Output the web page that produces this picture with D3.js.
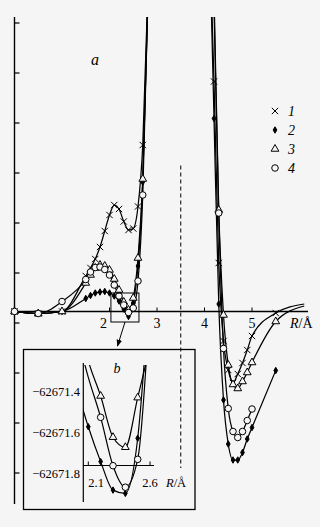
<!DOCTYPE html>
<html>
<head>
<meta charset="utf-8">
<script src="https://cdn.jsdelivr.net/npm/d3@7"></script>
<style>
  body { margin: 0; background: #f5f5f5; }
  svg { display: block; font-family: "Liberation Serif", "DejaVu Serif", serif; }
</style>
</head>
<body>
<div id="chart"></div>
<script>
// ---- data (R in Å, energy in tick units for the main panel) ----
var rLeft = [0, 0.5, 1.0, 1.5, 1.6, 1.7, 1.8, 1.9, 2.0, 2.1, 2.2, 2.3, 2.4, 2.5, 2.6, 2.7, 2.8];
var left1 = [0.23, 0.19, 0.23, 0.94, 1.10, 1.28, 1.52, 1.84, 2.16, 2.36, 2.28, 2.03, 1.86, 1.89, 2.33, 3.56, 6.4];
var left2 = [0.23, 0.19, 0.23, 0.49, 0.55, 0.60, 0.62, 0.63, 0.60, 0.54, 0.44, 0.28, 0.13, 0.40, 1.14, 2.82, 6.26];
var left3 = [0.23, 0.19, 0.23, 0.80, 0.96, 1.10, 1.16, 1.14, 1.06, 0.88, 0.66, 0.42, 0.26, 0.50, 1.30, 2.88, 6.16];
var left4 = [0.23, 0.19, 0.43, 0.87, 1.02, 1.11, 1.12, 1.07, 0.96, 0.76, 0.54, 0.36, 0.21, 0.30, 0.84, 2.56, 6.16];

var rRight = [4.1, 4.2, 4.3, 4.4, 4.5, 4.6, 4.7, 4.8, 4.9, 5.0, 5.5, 6.1];
var right1 = [8, 4.83, 1.20, -0.36, -0.94, -1.20, -1.02, -0.80, -0.54, -0.26, 0.20, 0.38];
var right2 = [8, 4.09, 0.38, -1.54, -2.42, -2.74, -2.74, -2.59, -2.32, -2.09, -0.95, null];
var right3 = [10, 6.6, 2.26, 0.16, -0.84, -1.23, -1.31, -1.17, -0.99, -0.79, 0.03, 0.34];
var right4 = [10, 6.3, 2.2, -0.51, -1.71, -2.17, -2.29, -2.17, -1.95, -1.72, null, null];

var xTicks = [2, 3, 4, 5];
var yTicks = [-3, -2, -1, 0, 1, 2, 3, 4, 5, 6];
var baseLevel = 0.23;      // where the R axis crosses
var dashR = 3.5;
var zoomBox = { r0: 2.03, r1: 2.62, e0: 0.02, e1: 0.6 };

// inset b (total energy)
var insetR = [2.0, 2.1, 2.2, 2.3, 2.4, 2.5, 2.6];
var inset2 = [-62671.37, -62671.571, -62671.741, -62671.880, -62671.896, -62671.627, -62670.85];
var inset3 = [-62671.0, -62671.25, -62671.421, -62671.622, -62671.671, -62671.429, -62671.18];
var inset4 = [-62671.1, -62671.33, -62671.525, -62671.761, -62671.866, -62671.730, -62670.95];
var insetMarkR2 = [2.1, 2.2, 2.3, 2.4, 2.5];
var insetMarkR34 = [2.2, 2.3, 2.4, 2.5];
var insetYTicks = [-62671.4, -62671.6, -62671.8];
var insetXTicks = [2.1, 2.6];
var insetBase = -62671.76;

var legendLabels = ["1", "2", "3", "4"];

// ---- setup ----
var bg = "#f5f5f5";
var svg = d3.select("#chart").append("svg")
    .attr("width", 320)
    .attr("height", 527)
    .style("background", bg);

var x = d3.scaleLinear().domain([0, 5]).range([14.5, 252]);
var y = d3.scaleLinear().domain([0, 6]).range([323, 23]);
var yTop = 6.12, yBottom = -3.62, xEnd = 6.18;

// marker shapes
var timesSym = {
    draw: function (ctx, size) {
        var r = Math.sqrt(size) / 2;
        ctx.moveTo(-r, -r); ctx.lineTo(r, r);
        ctx.moveTo(-r, r); ctx.lineTo(r, -r);
    }
};
var markers = [
    { type: timesSym, size: 40, fill: "none" },
    { type: d3.symbolDiamond, size: 12, fill: "#000" },
    { type: d3.symbolTriangle, size: 26, fill: bg },
    { type: d3.symbolCircle, size: 34, fill: bg }
];
function drawMarker(g, i, px, py) {
    var m = markers[i];
    g.append("path")
        .attr("d", d3.symbol().type(m.type).size(m.size)())
        .attr("transform", "translate(" + px + "," + py + ")")
        .attr("fill", m.fill)
        .attr("stroke", "#000")
        .attr("stroke-width", 1);
}

svg.append("clipPath").attr("id", "mainClip")
    .append("rect").attr("x", 15).attr("y", y(yTop))
    .attr("width", 300).attr("height", 527 - y(yTop));

// ---- main axes ----
svg.append("line")
    .attr("x1", x(0)).attr("x2", x(0))
    .attr("y1", y(yTop)).attr("y2", y(yBottom))
    .attr("stroke", "#000").attr("stroke-width", 1.4);
svg.selectAll(".ytick").data(yTicks).enter().append("line")
    .attr("x1", x(0)).attr("x2", x(0) + 5)
    .attr("y1", d => y(d)).attr("y2", d => y(d))
    .attr("stroke", "#000").attr("stroke-width", 1.2);

svg.append("line")
    .attr("x1", x(0)).attr("x2", x(xEnd))
    .attr("y1", y(baseLevel)).attr("y2", y(baseLevel))
    .attr("stroke", "#000").attr("stroke-width", 1.3);
svg.selectAll(".xtick").data(xTicks).enter().append("line")
    .attr("x1", d => x(d)).attr("x2", d => x(d))
    .attr("y1", y(baseLevel)).attr("y2", y(baseLevel) - 4)
    .attr("stroke", "#000").attr("stroke-width", 1);
svg.selectAll(".xlab").data(xTicks).enter().append("text")
    .attr("x", d => x(d))
    .attr("dx", d => d === 2 ? -6 : 0)
    .attr("y", y(baseLevel) + 16)
    .attr("text-anchor", "middle")
    .attr("font-size", 14)
    .text(d => d);

var rl = svg.append("text").attr("x", 290).attr("y", y(baseLevel) + 16).attr("font-size", 14);
rl.append("tspan").attr("font-style", "italic").text("R");
rl.append("tspan").text("/Å");

// dashed separator
svg.append("line")
    .attr("x1", x(dashR)).attr("x2", x(dashR))
    .attr("y1", y(3.15)).attr("y2", y(-2.9))
    .attr("stroke", "#000").attr("stroke-width", 1)
    .attr("stroke-dasharray", "4,3");

svg.append("text").attr("x", 95).attr("y", 65)
    .attr("text-anchor", "middle").attr("font-size", 16)
    .attr("font-style", "italic").text("a");

// ---- main curves ----
var lineMain = d3.line()
    .defined(d => d[1] !== null)
    .x(d => x(d[0])).y(d => y(d[1]))
    .curve(d3.curveMonotoneX);

var curveG = svg.append("g").attr("clip-path", "url(#mainClip)");
var leftSets = [left1, left2, left3, left4];
var rightSets = [right1, right2, right3, right4];

[0, 1, 2, 3].forEach(function (i) {
    var lp = rLeft.map((r, k) => [r, leftSets[i][k]]);
    var rp = rRight.map((r, k) => [r, rightSets[i][k]]).filter(d => d[1] !== null);
    [lp, rp].forEach(function (pts) {
        curveG.append("path")
            .attr("d", lineMain(pts))
            .attr("fill", "none")
            .attr("stroke", "#000")
            .attr("stroke-width", 1.25);
    });
});
[0, 1, 2, 3].forEach(function (i) {
    var lp = rLeft.map((r, k) => [r, leftSets[i][k]]);
    var rp = rRight.map((r, k) => [r, rightSets[i][k]]).filter(d => d[1] !== null);
    lp.concat(rp)
        .filter(d => d[1] <= 6.05 && d[0] <= 5.6)
        .forEach(d => drawMarker(svg, i, x(d[0]), y(d[1])));
});

// legend
legendLabels.forEach(function (lab, i) {
    var ly = 111 + i * 19;
    drawMarker(svg, i, 275, ly);
    svg.append("text").attr("x", 288).attr("y", ly + 5)
        .attr("font-size", 14).attr("font-style", "italic").text(lab);
});

// zoom box and arrow
svg.append("defs").append("marker")
    .attr("id", "arrow").attr("viewBox", "0 0 10 10")
    .attr("refX", 9).attr("refY", 5)
    .attr("markerWidth", 7).attr("markerHeight", 7)
    .attr("orient", "auto")
    .append("path").attr("d", "M0,1 L10,5 L0,9 Z").attr("fill", "#000");
svg.append("rect")
    .attr("x", x(zoomBox.r0)).attr("y", y(zoomBox.e1))
    .attr("width", x(zoomBox.r1) - x(zoomBox.r0))
    .attr("height", y(zoomBox.e0) - y(zoomBox.e1))
    .attr("fill", "none").attr("stroke", "#000").attr("stroke-width", 1);
svg.append("line")
    .attr("x1", 125).attr("y1", y(zoomBox.e0))
    .attr("x2", 117.5).attr("y2", 346)
    .attr("stroke", "#000").attr("stroke-width", 1)
    .attr("marker-end", "url(#arrow)");

// ---- inset b ----
svg.append("rect")
    .attr("x", 23.5).attr("y", 349.5).attr("width", 171.5).attr("height", 160)
    .attr("fill", "none").attr("stroke", "#000").attr("stroke-width", 1.3);

var ix = d3.scaleLinear().domain([2.1, 2.5]).range([88.3, 137.7]);
var iy = d3.scaleLinear().domain([-62671.4, -62671.8]).range([391.7, 473.7]);
var ixLeft = 83.3, ixRight = 154, iyTop = 363, iyBottom = 502;

svg.append("clipPath").attr("id", "insetClip")
    .append("rect").attr("x", ixLeft).attr("y", 365)
    .attr("width", ixRight - ixLeft).attr("height", iyBottom - 365);

svg.append("line")
    .attr("x1", ixLeft).attr("x2", ixLeft).attr("y1", iyTop).attr("y2", iyBottom)
    .attr("stroke", "#000").attr("stroke-width", 1.2);
svg.append("line")
    .attr("x1", ixLeft).attr("x2", ixRight)
    .attr("y1", iy(insetBase)).attr("y2", iy(insetBase))
    .attr("stroke", "#000").attr("stroke-width", 1.2);
svg.selectAll(".ixt").data(insetXTicks).enter().append("line")
    .attr("x1", d => ix(d)).attr("x2", d => ix(d))
    .attr("y1", iy(insetBase)).attr("y2", iy(insetBase) - 4)
    .attr("stroke", "#000").attr("stroke-width", 1);
svg.selectAll(".ixl").data(insetXTicks).enter().append("text")
    .attr("x", d => ix(d))
    .attr("y", 487)
    .attr("text-anchor", (d, k) => k === 0 ? "start" : "middle")
    .attr("font-size", 12.5)
    .text(d => d.toFixed(1));
svg.selectAll(".iyl").data(insetYTicks).enter().append("text")
    .attr("x", 80)
    .attr("y", d => iy(d) + 4.5)
    .attr("text-anchor", "end")
    .attr("font-size", 12.5)
    .text(d => "\u2212" + Math.abs(d).toFixed(1));

var irl = svg.append("text").attr("x", 166).attr("y", 487).attr("font-size", 12.5);
irl.append("tspan").attr("font-style", "italic").text("R");
irl.append("tspan").text("/Å");

svg.append("text").attr("x", 117).attr("y", 373)
    .attr("text-anchor", "middle").attr("font-size", 14)
    .attr("font-style", "italic").text("b");

var lineInset = d3.line()
    .x(d => ix(d[0])).y(d => iy(d[1]))
    .curve(d3.curveMonotoneX);
var insetG = svg.append("g").attr("clip-path", "url(#insetClip)");
var insetSets = [inset2, inset3, inset4];
var insetMarks = [insetMarkR2, insetMarkR34, insetMarkR34];
insetSets.forEach(function (vals, j) {
    var pts = insetR.map((r, k) => [r, vals[k]]);
    insetG.append("path")
        .attr("d", lineInset(pts))
        .attr("fill", "none").attr("stroke", "#000").attr("stroke-width", 1.2);
});
insetSets.forEach(function (vals, j) {
    insetR.forEach(function (r, k) {
        if (insetMarks[j].indexOf(r) >= 0) drawMarker(svg, j + 1, ix(r), iy(vals[k]));
    });
});
</script>
</body>
</html>
